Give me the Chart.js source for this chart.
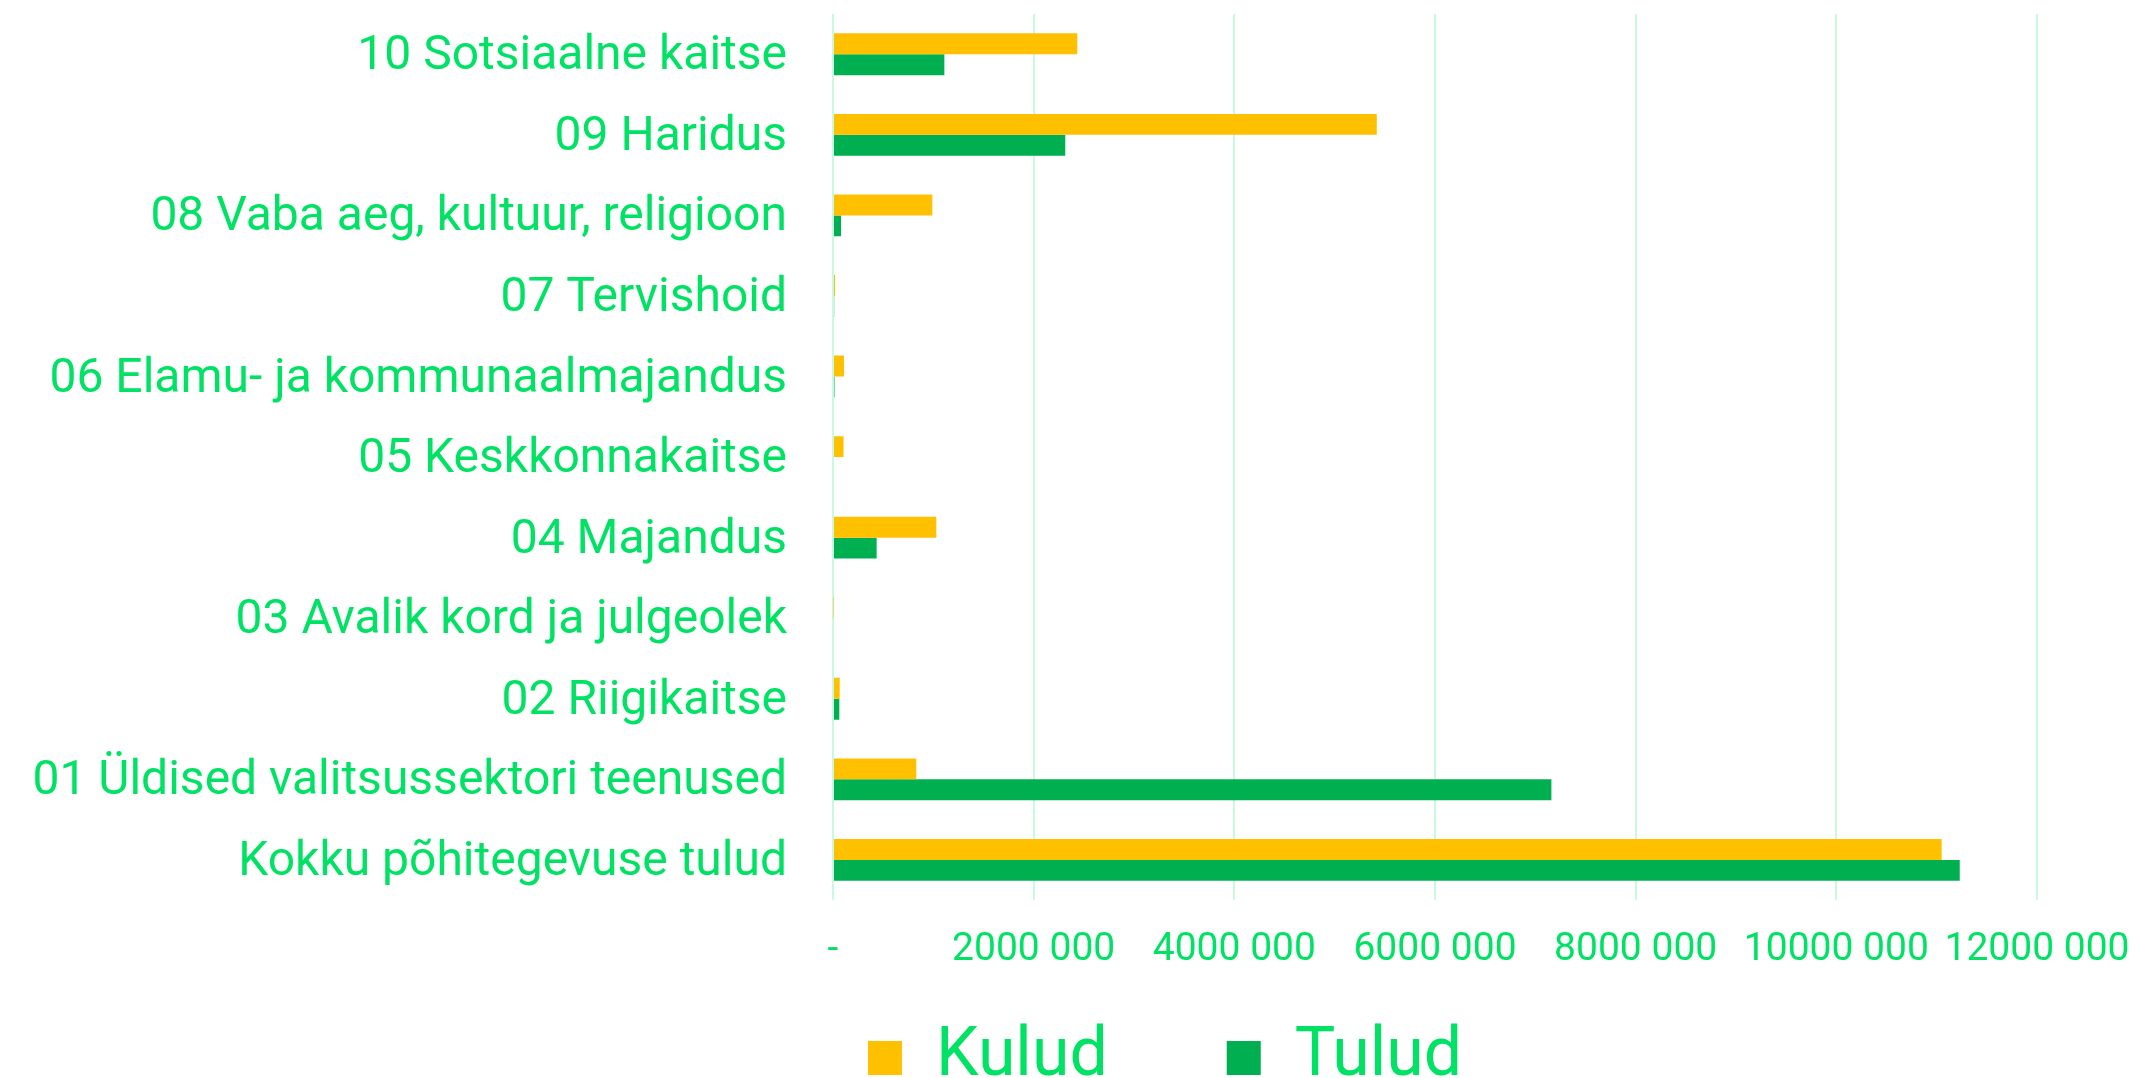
<!DOCTYPE html>
<html>
<head>
<meta charset="utf-8">
<script src="https://cdn.jsdelivr.net/npm/chart.js@4/dist/chart.umd.min.js"></script>
<style>
html,body{margin:0;padding:0;background:#ffffff;overflow:hidden}
#wrap{width:2134px;height:1078px;position:relative}
</style>
</head>
<body>
<div id="wrap"><canvas id="c"></canvas></div>
<script>
const categories = [
  '10 Sotsiaalne kaitse',
  '09 Haridus',
  '08 Vaba aeg, kultuur, religioon',
  '07 Tervishoid',
  '06 Elamu- ja kommunaalmajandus',
  '05 Keskkonnakaitse',
  '04 Majandus',
  '03 Avalik kord ja julgeolek',
  '02 Riigikaitse',
  '01 Üldised valitsussektori teenused',
  'Kokku põhitegevuse tulud'
];
const kulud = [2435000, 5420000, 990000, 20000, 110000, 105000, 1030000, 5000, 67000, 830000, 11050000];
const tulud = [1110000, 2315000, 80000, 12000, 15000, 0, 435000, 0, 63000, 7160000, 11230000];
const seriesNames = ['Kulud', 'Tulud'];
const tickLabels = ['-', '2000 000', '4000 000', '6000 000', '8000 000', '10000 000', '12000 000'];
const axisMin = 0, axisMax = 12000000, axisStep = 2000000;

const textColor = '#00E264';
const gridColor = '#C9F9E0';
const colKulud = '#FFC000';
const colTulud = '#00B050';
const fontFamily = 'Roboto, "Open Sans", sans-serif';

const yAxisWidth = 833;
const legendCenterX = 1165;
const legendItemOffset = 23;

const legendShift = {
  id: 'legendShift',
  afterLayout(chart) {
    const lg = chart.legend;
    if (!lg) return;
    const pad = lg.options.labels.padding;
    lg.top += legendItemOffset - pad;
    const dx = legendCenterX - (lg.left + lg.right) / 2;
    lg.left += dx;
    lg.right += dx;
  }
};

new Chart(document.getElementById('c'), {
  type: 'bar',
  data: {
    labels: categories,
    datasets: [
      { label: seriesNames[0], data: kulud, backgroundColor: colKulud, borderWidth: 0 },
      { label: seriesNames[1], data: tulud, backgroundColor: colTulud, borderWidth: 0 }
    ]
  },
  options: {
    indexAxis: 'y',
    responsive: true,
    maintainAspectRatio: false,
    animation: false,
    devicePixelRatio: 1,
    categoryPercentage: 0.52,
    barPercentage: 1.0,
    layout: { padding: { top: 14, right: 97, bottom: 0, left: 0 } },
    scales: {
      x: {
        min: axisMin,
        max: axisMax,
        border: { display: false },
        grid: { color: gridColor, lineWidth: 2, drawTicks: false },
        ticks: {
          stepSize: axisStep,
          color: textColor,
          padding: 27,
          maxRotation: 0,
          font: { family: fontFamily, size: 39 },
          callback: (v, i) => tickLabels[i]
        },
        afterFit(scale) { scale.paddingLeft = 0; scale.paddingRight = 0; }
      },
      y: {
        border: { display: false },
        grid: { display: false, drawTicks: false },
        ticks: {
          color: textColor,
          padding: 46,
          labelOffset: 3,
          font: { family: fontFamily, size: 48 }
        },
        afterFit(scale) { scale.width = yAxisWidth; scale.paddingTop = 0; scale.paddingBottom = 0; }
      }
    },
    plugins: {
      legend: {
        position: 'bottom',
        align: 'center',
        maxHeight: 77,
        labels: {
          boxWidth: 34,
          boxHeight: 34,
          padding: 119,
          color: textColor,
          font: { family: fontFamily, size: 68 }
        }
      },
      tooltip: { enabled: false },
      title: { display: false }
    }
  },
  plugins: [legendShift]
});
</script>
</body>
</html>
